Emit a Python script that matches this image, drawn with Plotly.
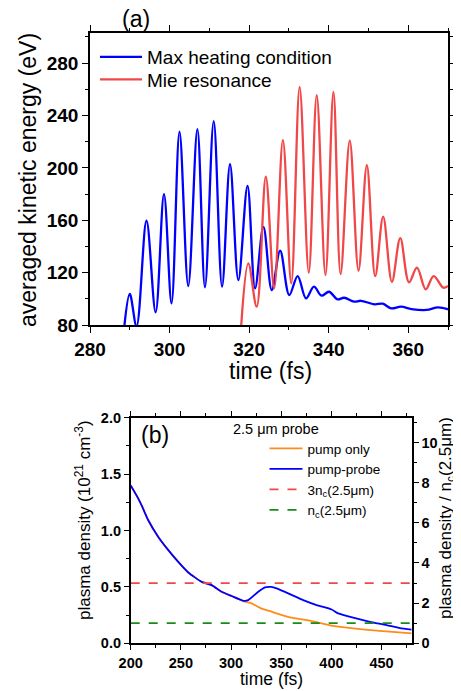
import plotly.graph_objects as go

# ---- panel (a): averaged kinetic energy vs time ----
t_max_heating = [288.6, 290.0, 291.7, 294.2, 296.5, 298.6, 300.5, 302.5, 304.7, 307.0,
                 308.9, 311.1, 313.2, 315.2, 317.3, 319.6, 321.5, 323.6, 325.7, 327.8,
                 330.1, 332.2, 334.3, 336.3, 338.2, 340.1, 342.2, 343.9, 346.4, 348.1,
                 351.5, 353.6, 355.7, 358.2, 360.8, 364.6, 367.5, 370.0]
e_max_heating = [78, 103.7, 79, 159.6, 89.7, 180, 96.5, 227.6, 109.8, 229.6,
                 108.8, 235.7, 109.3, 202.9, 114.3, 186.3, 108, 155, 106.7, 136.7,
                 102.9, 117.4, 100.3, 109.3, 102.4, 105.4, 99.6, 100.8, 97.8, 98.5,
                 95.8, 96.3, 92.7, 94, 92.2, 91.5, 93.5, 92]

t_mie = [318.0, 319.8, 321.9, 324.2, 326.3, 328.5, 330.6, 332.7, 335.0, 337.0,
         339.2, 341.2, 343.0, 345.3, 347.5, 349.6, 351.7, 353.7, 355.9, 358.0,
         360.2, 362.2, 364.4, 366.4, 368.8, 370.0]
e_mie = [79, 127, 94, 193.2, 108, 221.2, 111.8, 261.9, 120, 255.6,
         118.2, 258, 118.9, 220.7, 121.5, 202, 117.4, 162.7, 113, 146.4,
         112.6, 123.8, 107.3, 117.4, 108.5, 109.8]

# ---- panel (b): plasma density vs time ----
t_probe = [200, 207.6, 211.6, 217.5, 227.5, 237.5, 247.4, 257.4, 270.7, 280.7,
           290.6, 300.6, 312.2, 317.1, 327.1, 333.8, 340.0, 345.4, 358.7, 371.9,
           385.3, 400.2, 406.8, 421.7, 438.4, 455.0, 468.2, 480]
n_probe = [1.40, 1.283, 1.209, 1.091, 0.943, 0.826, 0.722, 0.628, 0.545, 0.516,
           0.457, 0.419, 0.377, 0.383, 0.457, 0.496, 0.50, 0.487, 0.436, 0.383,
           0.339, 0.30, 0.265, 0.227, 0.191, 0.162, 0.135, 0.122]

t_pump = [200, 207.6, 211.6, 217.5, 227.5, 237.5, 247.4, 257.4, 270.7, 280.7,
          290.6, 300.6, 312.2, 320.5, 330.0, 340.4, 358.7, 378.6, 398.5, 421.7,
          445.0, 480]
n_pump = [1.40, 1.283, 1.209, 1.091, 0.943, 0.826, 0.722, 0.628, 0.545, 0.516,
          0.457, 0.419, 0.374, 0.354, 0.31, 0.28, 0.23, 0.20, 0.159, 0.133,
          0.112, 0.088]

nc_per_1e21 = 0.178          # n_c(2.5um) in units of 1e21 cm^-3
t_ref = [200, 480]
ref_3nc = [3, 3]
ref_nc = [1, 1]

BLUE = '#0000ff'
RED = '#f04848'
ORANGE = '#ff8c1a'
GREEN = '#1a8a1a'
FONT = 'Liberation Sans, Arial, sans-serif'

fig = go.Figure()

fig.add_trace(go.Scatter(x=t_max_heating, y=e_max_heating, mode='lines',
                         line=dict(color=BLUE, width=2.3, shape='spline', smoothing=1.0),
                         name='Max heating condition', xaxis='x', yaxis='y', legend='legend'))
fig.add_trace(go.Scatter(x=t_mie, y=e_mie, mode='lines',
                         line=dict(color=RED, width=2.3, shape='spline', smoothing=1.0),
                         name='Mie resonance', xaxis='x', yaxis='y', legend='legend3'))

fig.add_trace(go.Scatter(x=t_pump, y=n_pump, mode='lines',
                         line=dict(color=ORANGE, width=1.8, shape='spline', smoothing=0.5),
                         name='pump only', xaxis='x2', yaxis='y2', legend='legend2'))
fig.add_trace(go.Scatter(x=t_probe, y=n_probe, mode='lines',
                         line=dict(color=BLUE, width=1.8, shape='spline', smoothing=0.5),
                         name='pump-probe', xaxis='x2', yaxis='y2', legend='legend2'))
fig.add_trace(go.Scatter(x=t_ref, y=ref_3nc, mode='lines',
                         line=dict(color=RED, width=1.8, dash='dash'),
                         name='3n<sub>c</sub>(2.5μm)', xaxis='x2', yaxis='y3', legend='legend2'))
fig.add_trace(go.Scatter(x=t_ref, y=ref_nc, mode='lines',
                         line=dict(color=GREEN, width=1.8, dash='dash'),
                         name='n<sub>c</sub>(2.5μm)', xaxis='x2', yaxis='y3', legend='legend2'))

# the page body has an 8px margin: the figure starts 8px in, so it is made
# 8px smaller and positions measured on the page are shifted by 8px
OFF = 8
W, H = 461 - OFF, 691 - OFF


def px_x(p):
    return (p - OFF) / W


def px_y(p):
    return 1 - (p - OFF) / H


axis_common = dict(showline=True, linecolor='black', linewidth=1.6, ticks='outside',
                   tickcolor='black', tickwidth=1.4, showgrid=False, zeroline=False,
                   automargin=False)
legend_common = dict(xanchor='left', yanchor='top', bgcolor='rgba(0,0,0,0)')

fig.update_layout(
    width=W, height=H,
    margin=dict(l=0, r=0, t=0, b=0, autoexpand=False),
    plot_bgcolor='white', paper_bgcolor='white',
    font=dict(family=FONT, color='black'),
    showlegend=True,
    xaxis=dict(**axis_common, domain=[px_x(90), px_x(448)], range=[280, 370], anchor='y',
               dtick=20, ticklen=6, mirror='ticks',
               minor=dict(dtick=10, ticks='outside', ticklen=3, tickcolor='black'),
               tickfont=dict(size=19, weight='bold')),
    yaxis=dict(**axis_common, domain=[px_y(325), px_y(33)], range=[80, 303], anchor='x',
               dtick=40, ticklen=6, mirror='ticks',
               minor=dict(dtick=20, ticks='outside', ticklen=3, tickcolor='black'),
               tickfont=dict(size=19, weight='bold')),
    xaxis2=dict(**axis_common, domain=[px_x(130.7), px_x(411.7)], range=[200, 480], anchor='y2',
                dtick=50, ticklen=5, mirror='ticks',
                minor=dict(dtick=25, ticks='outside', ticklen=3, tickcolor='black'),
                tickfont=dict(size=14.5, weight='bold')),
    yaxis2=dict(**axis_common, domain=[px_y(643.3), px_y(417.7)], range=[0, 2], anchor='x2',
                dtick=0.5, tickformat='.1f', ticklen=5,
                minor=dict(dtick=0.25, ticks='outside', ticklen=3, tickcolor='black'),
                tickfont=dict(size=14.5, weight='bold')),
    yaxis3=dict(**axis_common, overlaying='y2', side='right', anchor='x2',
                range=[0, 2 / nc_per_1e21], dtick=2, ticklen=5,
                minor=dict(dtick=1, ticks='outside', ticklen=3, tickcolor='black'),
                tickfont=dict(size=14.5, weight='bold')),
    legend=dict(**legend_common, x=px_x(95), y=px_y(38), font=dict(size=19), itemwidth=42),
    legend3=dict(**legend_common, x=px_x(95), y=px_y(60.5), font=dict(size=19), itemwidth=42),
    legend2=dict(**legend_common, x=px_x(264.5), y=px_y(433), font=dict(size=13.5),
                 itemwidth=33),
    annotations=[
        dict(text='(a)', x=px_x(136), y=px_y(19), xref='paper', yref='paper',
             xanchor='center', yanchor='middle', showarrow=False, font=dict(size=23)),
        dict(text='(b)', x=px_x(155), y=px_y(435), xref='paper', yref='paper',
             xanchor='center', yanchor='middle', showarrow=False, font=dict(size=23)),
        dict(text='2.5 μm probe', x=px_x(276), y=px_y(429), xref='paper', yref='paper',
             xanchor='center', yanchor='middle', showarrow=False, font=dict(size=14.5)),
        # axis titles
        dict(text='averaged kinetic energy (eV)', x=px_x(28), y=px_y(180), textangle=-90,
             xref='paper', yref='paper', xanchor='center', yanchor='middle',
             showarrow=False, font=dict(size=23)),
        dict(text='time (fs)', x=px_x(270), y=px_y(371), xref='paper', yref='paper',
             xanchor='center', yanchor='middle', showarrow=False, font=dict(size=23)),
        dict(text='plasma density (10<sup>21</sup> cm<sup>-3</sup>)', x=px_x(83), y=px_y(520),
             textangle=-90, xref='paper', yref='paper', xanchor='center', yanchor='middle',
             showarrow=False, font=dict(size=17)),
        dict(text='plasma density / n<sub>c</sub>(2.5μm)', x=px_x(447), y=px_y(518),
             textangle=-90, xref='paper', yref='paper', xanchor='center', yanchor='middle',
             showarrow=False, font=dict(size=17)),
        dict(text='time (fs)', x=px_x(271), y=px_y(679), xref='paper', yref='paper',
             xanchor='center', yanchor='middle', showarrow=False, font=dict(size=17.5)),
    ],
)

fig.write_html('out.html')
